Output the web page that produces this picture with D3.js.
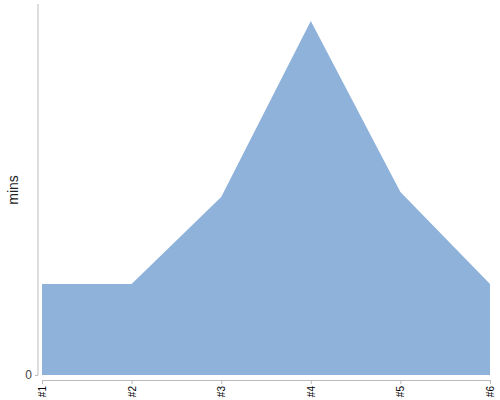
<!DOCTYPE html>
<html>
<head>
<meta charset="utf-8">
<script src="https://cdn.jsdelivr.net/npm/d3@7"></script>
<style>
  body { margin: 0; background: #fff; }
  text { font-family: "Liberation Sans", Arial, sans-serif; }
</style>
</head>
<body>
<svg id="chart" width="500" height="400"></svg>
<script>
// data
var labels = ['#1', '#2', '#3', '#4', '#5', '#6'];
var mins = [24.5, 24.5, 48, 95.4, 49.3, 24.5];
var yTicks = [0];

var svg = d3.select('#chart');

var x = d3.scalePoint().domain(labels).range([42, 490]);
var y = d3.scaleLinear().domain([0, 100]).range([375, 4]);

var area = d3.area()
  .x(function(d, i) { return x(labels[i]); })
  .y0(y(0))
  .y1(function(d) { return y(d); });

svg.append('path')
  .datum(mins)
  .attr('d', area)
  .attr('fill', '#8fb2da');

// y axis
var yAxis = svg.append('g')
  .attr('transform', 'translate(38,0)')
  .call(d3.axisLeft(y).tickValues(yTicks).tickSize(3).tickPadding(3));
yAxis.select('.domain').attr('stroke', '#bbb').attr('d', 'M0,' + y.range()[1] + 'V' + y.range()[0]);
yAxis.selectAll('.tick line').attr('stroke', '#bbb');
yAxis.selectAll('.tick text').attr('fill', '#444').style('font-size', '12px');

// x axis
var xAxis = svg.append('g')
  .attr('transform', 'translate(0,380)')
  .call(d3.axisBottom(x).tickSize(4).tickSizeOuter(0));
xAxis.select('.domain').attr('stroke', '#bbb');
xAxis.selectAll('.tick line').attr('stroke', '#bbb');
xAxis.selectAll('.tick text')
  .attr('fill', '#000')
  .style('font-size', '10px')
  .attr('transform', 'rotate(-90)')
  .attr('text-anchor', 'end')
  .attr('x', -6)
  .attr('y', 0)
  .attr('dy', '0.35em');

svg.append('text')
  .attr('transform', 'translate(18,190) rotate(-90)')
  .attr('text-anchor', 'middle')
  .style('font-size', '14px')
  .attr('fill', '#222')
  .text('mins');
</script>
</body>
</html>
